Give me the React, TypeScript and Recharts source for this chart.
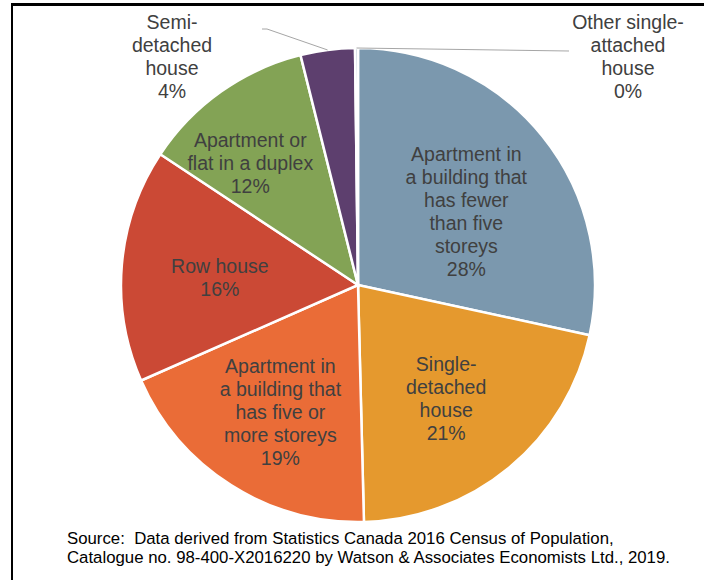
import React from 'react';
import { PieChart, Pie, Cell } from 'recharts';

// dwelling types, share of units (%), clockwise from 12 o'clock
const categories = [
  'Apartment in a building that has fewer than five storeys',
  'Single-detached house',
  'Apartment in a building that has five or more storeys',
  'Row house',
  'Apartment or flat in a duplex',
  'Semi-detached house',
  'Other single-attached house',
];
const shares = [28.4, 21.2, 18.8, 15.9, 11.8, 3.7, 0.2];
const labelLines = [
  ['Apartment in', 'a building that', 'has fewer', 'than five', 'storeys'],
  ['Single-', 'detached', 'house'],
  ['Apartment in', 'a building that', 'has five or', 'more storeys'],
  ['Row house'],
  ['Apartment or', 'flat in a duplex'],
  ['Semi-', 'detached', 'house'],
  ['Other single-', 'attached', 'house'],
];
const colors = ['#7B98AE', '#E5992E', '#EA6C37', '#CB4935', '#83A355', '#5D3F6E', '#A9BCCB'];

const sourceLines = [
  'Source:  Data derived from Statistics Canada 2016 Census of Population,',
  'Catalogue no. 98-400-X2016220 by Watson & Associates Economists Ltd., 2019.',
];

const data = categories.map((name, i) => ({ name, value: shares[i] }));

// label placement: inside labels by fraction of radius (+ nudge), outside ones offset from pie centre
type LabelCfg =
  | { kind: 'in'; r: number; dx?: number; dy?: number }
  | { kind: 'out'; tx: number; ty: number; path: [number, number][] };
const labelCfg: LabelCfg[] = [
  { kind: 'in', r: 0.56, dx: 5, dy: 10 },
  { kind: 'in', r: 0.63, dx: -7, dy: -2 },
  { kind: 'in', r: 0.635, dx: 3 },
  { kind: 'in', r: 0.585, dy: 4 },
  { kind: 'in', r: 0.67, dx: -16, dy: 8 },
  { kind: 'out', tx: -186, ty: -263, path: [[-91, -256], [-96, -256]] },
  { kind: 'out', tx: 270, ty: -263, path: [[211, -234]] },
];

const RAD = Math.PI / 180;
const LINE_H = 23;
const FONT = '"Liberation Sans", Arial, sans-serif';

const renderLabel = (props: any) => {
  const { cx, cy, midAngle, outerRadius, index, value } = props;
  const cfg = labelCfg[index];
  const lines = [...labelLines[index], `${Math.round(value)}%`];
  let x: number;
  let y: number;
  let leader: React.ReactNode = null;
  if (cfg.kind === 'in') {
    const r = outerRadius * cfg.r;
    x = cx + r * Math.cos(-midAngle * RAD) + (cfg.dx || 0);
    y = cy + r * Math.sin(-midAngle * RAD) - ((lines.length - 1) * LINE_H) / 2 + (cfg.dy || 0);
  } else {
    x = cx + cfg.tx;
    y = cy + cfg.ty;
    const ex = cx + outerRadius * Math.cos(-midAngle * RAD);
    const ey = cy + outerRadius * Math.sin(-midAngle * RAD);
    const pts = [[ex, ey], ...cfg.path.map(([px, py]) => [cx + px, cy + py])];
    leader = (
      <polyline
        points={pts.map((p) => p.join(',')).join(' ')}
        fill="none"
        stroke="#A6A6A6"
        strokeWidth={1}
      />
    );
  }
  return (
    <g key={`lbl-${index}`}>
      {leader}
      {lines.map((t, k) => (
        <text
          key={k}
          x={x}
          y={y + k * LINE_H}
          textAnchor="middle"
          dominantBaseline="central"
          fill="#404040"
          fontSize={19.5}
          fontFamily={FONT}
        >
          {t}
        </text>
      ))}
    </g>
  );
};

export default function App() {
  return (
    <div
      style={{
        position: 'absolute',
        left: 0,
        top: 0,
        width: 704,
        height: 580,
        overflow: 'hidden',
        background: '#fff',
      }}
    >
      <div
        style={{
          position: 'absolute',
          left: 11,
          top: 3,
          width: 800,
          height: 700,
          borderLeft: '2px solid #000',
          borderTop: '3px solid #000',
        }}
      />
      <div style={{ position: 'absolute', left: 0, top: 0 }}>
        <PieChart width={704} height={580} margin={{ top: 0, right: 0, bottom: 0, left: 0 }}>
          <Pie
            data={data}
            dataKey="value"
            cx={358}
            cy={285}
            outerRadius={237}
            startAngle={90}
            endAngle={-270}
            stroke="#fff"
            strokeWidth={2.5}
            label={renderLabel}
            labelLine={false}
            isAnimationActive={false}
          >
            {data.map((d, i) => (
              <Cell key={d.name} fill={colors[i]} />
            ))}
          </Pie>
        </PieChart>
      </div>
      <div
        style={{
          position: 'absolute',
          left: 67,
          top: 529,
          fontFamily: FONT,
          fontSize: 16.8,
          lineHeight: '19px',
          color: '#000',
          whiteSpace: 'nowrap',
        }}
      >
        {sourceLines.map((l) => (
          <div key={l} style={{ whiteSpace: 'pre' }}>
            {l}
          </div>
        ))}
      </div>
    </div>
  );
}
